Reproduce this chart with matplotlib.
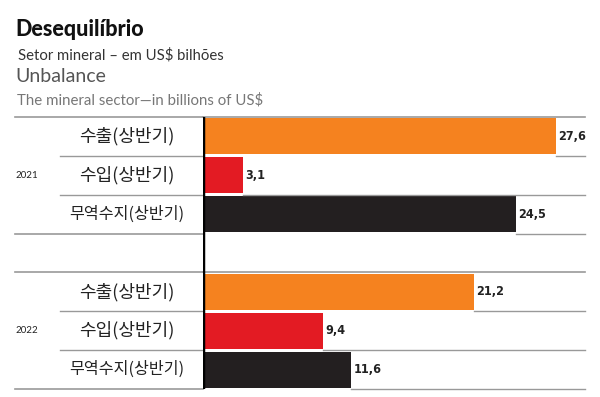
import matplotlib
matplotlib.use("Agg")
import matplotlib.pyplot as plt

plt.rcParams['font.family'] = ['Lato', 'Noto Sans CJK KR', 'DejaVu Sans']

### data
years = ['2021', '2022']
row_labels = ['수출(상반기)', '수입(상반기)', '무역수지(상반기)']
exports = [27.6, 21.2]
imports = [3.1, 9.4]
balance = [24.5, 11.6]

### colours
colors = ['#F5821F', '#E31B23', '#231F20']
W, H = 600, 397

fig = plt.figure(figsize=(6, 3.97), dpi=100)
# axes placed in pixel terms: axis line at x=203, grid ends at x=585
ax = fig.add_axes([203 / W, 1 - 389 / H, (585 - 203) / W, (389 - 117) / H])
tr = ax.get_yaxis_transform()
xmax = 29.9

values = [exports, imports, balance]
for g, year in enumerate(years):
    for r in range(3):
        y = g * 4 + r
        v = values[r][g]
        ax.barh(y, v, height=0.93, color=colors[r], zorder=3)
        ax.text(v + 0.2, y, f"{v:.1f}".replace('.', ','), va='center', ha='left',
                fontsize=9, fontweight='bold', fontstretch='condensed',
                color='#222222', family=['DejaVu Sans'])
        ax.text(-0.20, y, row_labels[r], transform=tr,
                ha='center', va='center', fontsize=13 if r < 2 else 11.6,
                color='#222222', family=['Noto Sans CJK KR', 'DejaVu Sans'])
        # separator under the row: full on the label side, from bar end on the right
        yb = y + 0.5
        if r < 2:
            ax.plot([-0.374, 0], [yb, yb], transform=tr, color='#999999', lw=1.0,
                    clip_on=False, zorder=1)
        ax.plot([v, xmax], [yb, yb], color='#999999', lw=1.0, clip_on=False, zorder=4)
    ax.text(-0.492, g * 4 + 1, year, transform=tr,
            ha='left', va='center', fontsize=7, color='#222222')

# group borders
for yb in [-0.5, 2.5, 3.5, 6.5]:
    ax.plot([-0.492, 0], [yb, yb], transform=tr, color='#999999', lw=1.2,
            clip_on=False, zorder=1)
for yb in [-0.5, 3.5]:
    ax.plot([0, 1], [yb, yb], transform=tr, color='#999999', lw=1.2,
            clip_on=False, zorder=1)

ax.axvline(0, color='black', lw=2.5, zorder=5)
ax.set_xlim(0, xmax)
ax.set_ylim(6.5, -0.5)
ax.axis('off')

# titles
fig.text(15 / W, 1 - 29 / H, 'Desequilíbrio', fontsize=15.5, fontweight='black',
         color='#111111', va='center', ha='left')
fig.text(18 / W, 1 - 55 / H, 'Setor mineral – em US$ bilhões', fontsize=10.7,
         color='#333333', va='center', ha='left')
fig.text(15 / W, 1 - 77 / H, 'Unbalance', fontsize=14, color='#555555',
         va='center', ha='left')
fig.text(17 / W, 1 - 100 / H, 'The mineral sector—in billions of US$', fontsize=10.8,
         color='#777777', va='center', ha='left')

fig.savefig('out.png', dpi=100)
